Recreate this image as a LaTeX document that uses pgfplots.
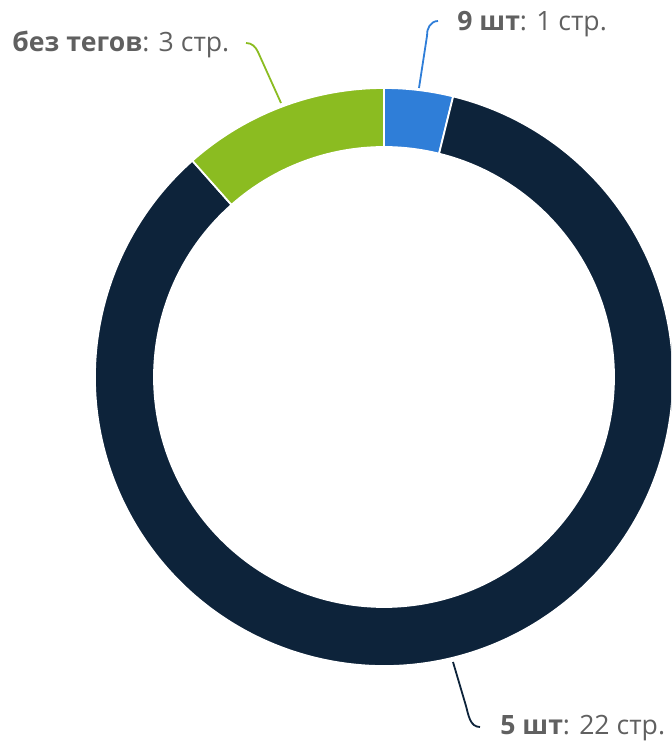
\documentclass[border=0pt]{standalone}
\usepackage{pgfplots}
\pgfplotsset{compat=1.18}
\usepackage{fontspec}
\setmainfont{Open Sans}
\usetikzlibrary{calc}
\definecolor{cblue}{HTML}{2F7ED8}
\definecolor{cnavy}{HTML}{0D233A}
\definecolor{cgreen}{HTML}{8BBC21}
\definecolor{lbl}{HTML}{606060}
% data: pages per tag count
\def\vA{1}  % 9 шт
\def\vB{22} % 5 шт
\def\vC{3}  % без тегов
\pgfmathsetmacro\tot{\vA+\vB+\vC}
\pgfmathsetmacro\aZ{90}
\pgfmathsetmacro\aA{\aZ-360*\vA/\tot}
\pgfmathsetmacro\aB{\aA-360*\vB/\tot}
\pgfmathsetmacro\aC{\aB-360*\vC/\tot}
\def\Ro{144.5pt}
\def\Ri{115pt}
\newcommand\sector[3]{%
  \fill[#1, draw=white, line width=0.9pt] ($(c)+(#2:\Ro)$) arc[start angle=#2, end angle=#3, radius=\Ro]
    -- ($(c)+(#3:\Ri)$) arc[start angle=#3, end angle=#2, radius=\Ri] -- cycle;}
\begin{document}
\begin{tikzpicture}
\begin{axis}[
  scale only axis, width=335.5pt, height=372pt,
  xmin=0, xmax=671, ymin=0, ymax=744,
  hide axis, clip=true]
\coordinate (c) at (axis cs:384,367);
\sector{cblue}{\aZ}{\aA}
\sector{cnavy}{\aA}{\aB}
\sector{cgreen}{\aB}{\aC}
% connectors
\draw[cblue, line width=0.9pt] (axis cs:438,723) to[out=180,in=95] (axis cs:427,708) -- (axis cs:419,656);
\draw[cgreen, line width=0.9pt] (axis cs:246,701) to[out=0,in=115] (axis cs:258,692) -- (axis cs:281,641);
\draw[cnavy, line width=0.9pt] (axis cs:453,82) -- (axis cs:466,38) to[out=-75,in=180] (axis cs:480,17);
% labels
\node[anchor=base west, inner sep=0pt, text=lbl, font=\fontsize{13.3}{15}\selectfont] at (axis cs:457,713) {\textbf{9 шт}: 1 стр.};
\node[anchor=base west, inner sep=0pt, text=lbl, font=\fontsize{13.3}{15}\selectfont] at (axis cs:12,692) {\textbf{без тегов}: 3 стр.};
\node[anchor=base west, inner sep=0pt, text=lbl, font=\fontsize{13.3}{15}\selectfont] at (axis cs:500,10) {\textbf{5 шт}: 22 стр.};
\end{axis}
\pgfresetboundingbox
\path[use as bounding box] (current axis.south west) rectangle (current axis.north east);
\end{tikzpicture}
\end{document}
